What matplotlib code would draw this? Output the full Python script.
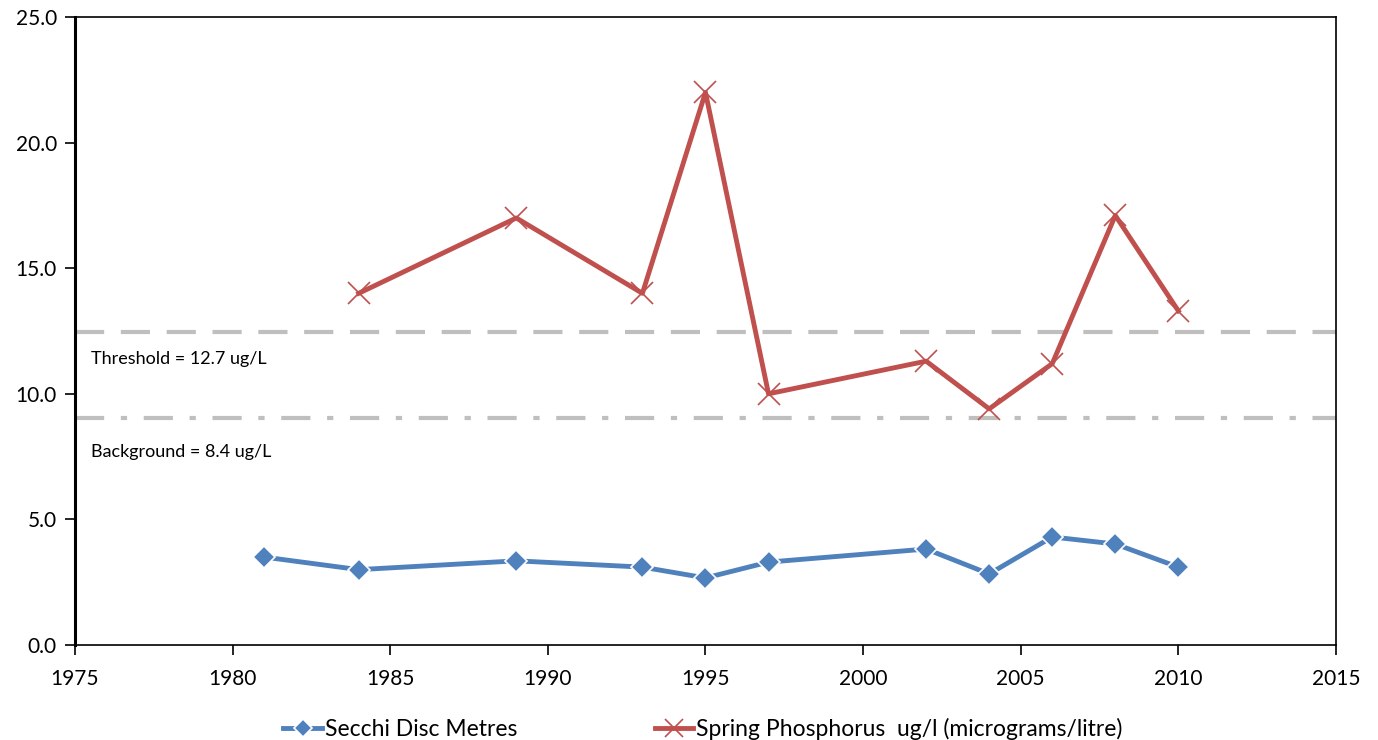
import matplotlib.pyplot as plt
import numpy as np

# values
SECCHI_YEARS = [1981, 1984, 1989, 1993, 1995, 1997, 2002, 2004, 2006, 2008, 2010]
SECCHI_M = [3.5, 3.0, 3.35, 3.1, 2.67, 3.3, 3.82, 2.83, 4.3, 4.02, 3.1]

PHOS_YEARS = [1984, 1989, 1993, 1995, 1997, 2002, 2004, 2006, 2008, 2010]
PHOS_UGL = [14.0, 17.0, 14.0, 22.0, 10.0, 11.3, 9.4, 11.2, 17.1, 13.3]

THRESHOLD = 12.45
BACKGROUND = 9.05
THRESHOLD_LABEL = "Threshold = 12.7 ug/L"
BACKGROUND_LABEL = "Background = 8.4 ug/L"

BLUE = "#4F81BD"
RED = "#C0504D"
GREY = "#BFBFBF"


def main() -> None:
    plt.rcParams.update({"font.family": ["Lato", "DejaVu Sans"], "font.size": 15})

    fig = plt.figure(figsize=(13.78, 7.40), dpi=100)
    ax = fig.add_axes([0.0544, 0.1284, 0.9151, 0.8486])

    ax.axhline(THRESHOLD, color=GREY, lw=3, dashes=(7, 4), zorder=1)
    ax.axhline(BACKGROUND, color=GREY, lw=3, dashes=(7, 4, 1.5, 4), zorder=1)
    ax.text(1975.5, 11.4, THRESHOLD_LABEL, fontsize=13, va="center")
    ax.text(1975.5, 7.7, BACKGROUND_LABEL, fontsize=13, va="center")

    ax.plot(SECCHI_YEARS, SECCHI_M, color=BLUE, lw=3.5, marker="D", ms=11,
            mfc=BLUE, mec="white", mew=1.2, label="Secchi Disc Metres", zorder=3)
    ax.plot(PHOS_YEARS, PHOS_UGL, color=RED, lw=3.5, marker="x", ms=16,
            mec=RED, mew=1.2, label="Spring Phosphorus  ug/l (micrograms/litre)", zorder=3)

    ax.set_xlim(1975, 2015)
    ax.set_ylim(0, 25)
    ax.set_xticks(np.arange(1975, 2016, 5))
    ax.set_yticks(np.arange(0, 25.1, 5))
    ax.set_yticklabels([f"{v:.1f}" for v in np.arange(0, 25.1, 5)])
    ax.tick_params(direction="out", length=7, width=1.2, pad=6)
    ax.tick_params(axis="x", pad=10)

    for side in ["top", "right", "bottom"]:
        ax.spines[side].set_linewidth(1.2)
    ax.spines["left"].set_linewidth(2.2)

    fig.legend(loc="lower center", bbox_to_anchor=(0.51, -0.028), ncol=2,
               frameon=False, fontsize=16.5, columnspacing=6, handlelength=1.7,
               handletextpad=0.1, markerscale=0.85)

    fig.savefig("out.png", dpi=100, facecolor="white")
    plt.close(fig)


if __name__ == "__main__":
    main()
